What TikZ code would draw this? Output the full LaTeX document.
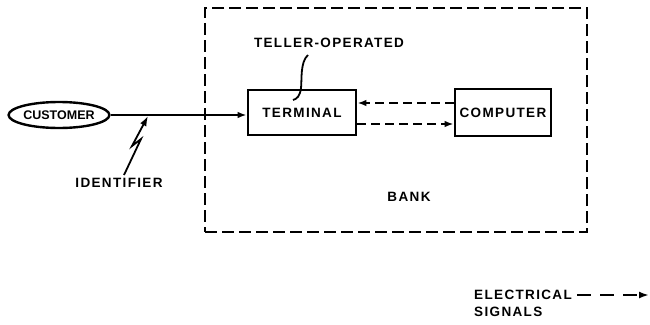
\documentclass[tikz,border=0pt]{standalone}
\usepackage{fontspec}
\newfontfamily\lblfont{Liberation Sans}[LetterSpace=10]
\newfontfamily\plainfont{Liberation Sans}
\newcommand\lbl{\lblfont\bfseries\fontsize{13.5}{15}\selectfont}
\newcommand\tightlbl{\plainfont\bfseries\fontsize{12.5}{14}\selectfont}
\usetikzlibrary{arrows.meta,shapes.geometric,positioning}
\tikzset{
 unit/.style={draw,line width=2.6pt,minimum width=108pt,minimum height=45pt,inner sep=0,font=\lbl},
 person/.style={ellipse,draw,line width=2.4pt,minimum width=94pt,minimum height=26pt,inner sep=0,font=\tightlbl},
 bankline/.style={draw,line width=2.4pt,dash pattern=on 12pt off 5pt},
 wire/.style={line width=2pt,-{Latex[length=9pt,width=6.5pt]}},
 signal/.style={line width=2pt,dash pattern=on 9pt off 5pt,-{Latex[length=9pt,width=6.5pt]}},
 keyline/.style={line width=2pt,dash pattern=on 14pt off 9pt,-{Latex[length=10pt,width=7pt]}},
 bolt/.style={line width=1.8pt,-{Latex[length=10pt,width=7pt]}},
 tag/.style={font=\lbl,inner sep=0}
}
\begin{document}
\begin{tikzpicture}[x=1pt,y=-1pt]
\path[use as bounding box] (0,0) rectangle (650,324);
% bank boundary
\node[bankline,minimum width=382pt,minimum height=224pt,inner sep=0] (bank) at (396,120) {};
\node[tag] (banklbl) at (409,197) {BANK};
% units
\node[person] (customer) at (59,115) {CUSTOMER};
\node[unit] (terminal) at (302,112.5) {TERMINAL};
\node[unit,minimum width=96pt,minimum height=47pt] (computer) at (503,112.5) {COMPUTER};
\node[tag] (teller) at (329,43) {TELLER-OPERATED};
\draw[line width=1.8pt] (308,55) .. controls (300,62) and (302,80) .. (301,88) .. controls (300,96) and (297,99) .. (293,100);
% connections
\draw[wire] (customer.east) -- (terminal.west |- customer.east);
\draw[signal] ([yshift=9.5pt]computer.west) -- ([yshift=9.5pt]terminal.east);
\draw[signal] ([yshift=-11.5pt]terminal.east) -- ([yshift=-11.5pt]computer.west);
% identifier
\node[tag] (ident) at (119,183) {IDENTIFIER};
\coordinate (zap) at (148,116);
\draw[bolt] (124,175) -- (141,139) -- (132,146) -- (zap);
% legend
\node[tag,anchor=west] (elec) at (474,295) {ELECTRICAL};
\node[tag,anchor=west] (sig) at (474,312) {SIGNALS};
\coordinate (legendend) at (649,295);
\draw[keyline] ([xshift=5pt]elec.east) -- (legendend);
\end{tikzpicture}
\end{document}
